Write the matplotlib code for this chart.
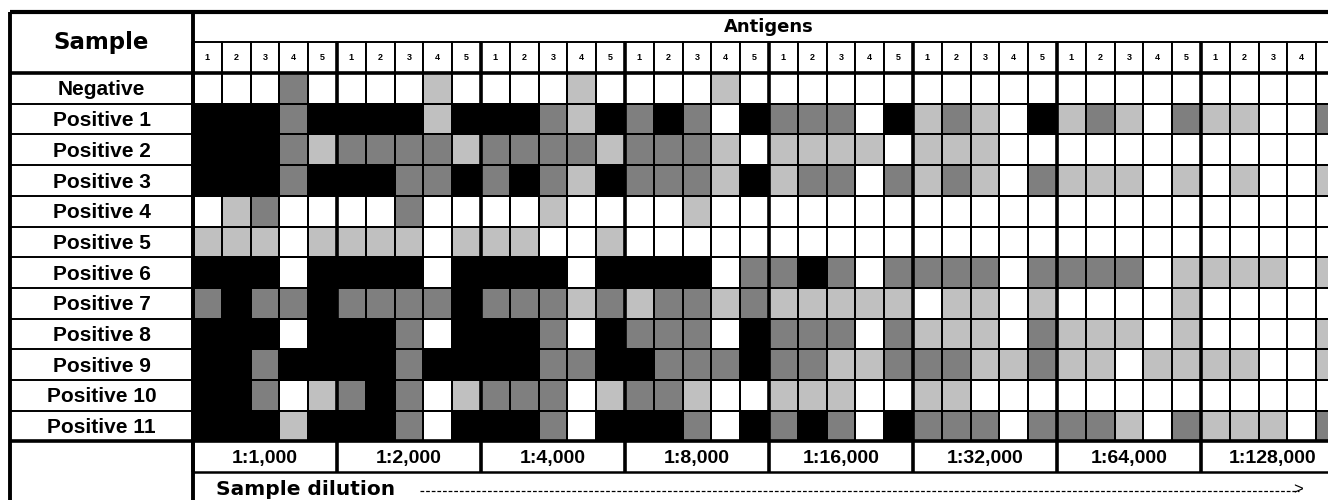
import numpy as np
import matplotlib
matplotlib.use('Agg')
import matplotlib.pyplot as plt
from matplotlib.colors import ListedColormap

# образцы (строки таблицы)
samples = ['Negative'] + ['Positive %d' % i for i in range(1, 12)]
antigens = ['1', '2', '3', '4', '5']
dilutions = ['1:1,000', '1:2,000', '1:4,000', '1:8,000',
             '1:16,000', '1:32,000', '1:64,000', '1:128,000']

# интенсивность реакции: 0 - нет, 1 - слабая, 2 - средняя, 3 - сильная
# по 5 антигенов на каждое разведение
results = [
    '00020 00010 00010 00010 00000 00000 00000 00000',
    '33323 33313 33213 23203 22203 12103 12102 11002',
    '33321 22221 22221 22210 11110 11100 00000 00000',
    '33323 33223 23213 22213 12202 12102 11101 01001',
    '01200 00200 00100 00100 00000 00000 00000 00000',
    '11101 11101 11001 00000 00000 00000 00000 00000',
    '33303 33303 33303 33302 23202 22202 22201 11101',
    '23223 22223 22212 12212 11111 01101 00001 00000',
    '33303 33203 33203 22203 22202 11102 11101 00001',
    '33233 33233 33223 32223 22112 22112 11011 11001',
    '33201 23201 22201 22100 11100 11000 00000 00000',
    '33313 33203 33203 33203 23203 22202 22102 11102',
]
level_colors = ['white', '#c0c0c0', '#7f7f7f', 'black']

grid = np.array([[int(ch) for ch in r.replace(' ', '')] for r in results])
n_rows, n_cols = grid.shape
n_ag = len(antigens)

fig = plt.figure(figsize=(13.28, 5.0), dpi=100)
ax = fig.add_axes([0, 0, 1, 1])
ax.set_xlim(-6.70, 39.41)
ax.set_ylim(13.91, -2.38)
ax.axis('off')

lab_font = 'Liberation Sans'
head_font = 'DejaVu Sans'
left = -6.35  # левая граница таблицы
lab_x = (left + 0) / 2

# ячейки
xe = np.arange(n_cols + 1)
ye = np.arange(n_rows + 1)
ax.pcolormesh(xe, ye, grid, cmap=ListedColormap(level_colors), vmin=-0.5, vmax=3.5,
              edgecolors='black', linewidth=1.4)

# строка с номерами антигенов
for j in range(n_cols):
    ax.add_patch(plt.Rectangle((j, -1), 1, 1, facecolor='white', edgecolor='black', lw=1.4))
    ax.text(j + 0.5, -0.5, antigens[j % n_ag], ha='center', va='center',
            fontsize=6.5, fontweight='bold', family=lab_font)

ax.text(n_cols / 2, -1.5, 'Antigens', ha='center', va='center',
        fontsize=13, fontweight='bold', family=head_font)
ax.text(lab_x, -1.0, 'Sample', ha='center', va='center',
        fontsize=16.5, fontweight='bold', family=head_font)

# подписи образцов
for i, s in enumerate(samples):
    ax.text(lab_x, i + 0.55, s, ha='center', va='center',
            fontsize=15, fontweight='bold', family=lab_font)
ax.hlines(np.arange(1, n_rows), left, 0, color='black', lw=1.4)

# подписи разведений
for b, d in enumerate(dilutions):
    ax.text(b * n_ag + n_ag / 2, n_rows + 0.55, d, ha='center', va='center',
            fontsize=14, fontweight='bold', family=lab_font)
ax.hlines(n_rows + 1, 0, n_cols, color='black', lw=1.8)

# рамки
ax.hlines(-2, left, n_cols, color='black', lw=3)
ax.hlines([0, n_rows], left, n_cols, color='black', lw=2.6)
ax.vlines([left, 0], -2, 14, color='black', lw=2.8)
ax.vlines(np.arange(0, n_cols + 1, n_ag), -1, n_rows + 1, color='black', lw=2.6)

# подпись оси разведения со стрелкой
ax.text(3.9, 13.58, 'Sample dilution', ha='center', va='center',
        fontsize=14.5, fontweight='bold', family=head_font)
ax.plot([7.9, 38.4], [13.62, 13.62], color='black', lw=0.9, ls=(0, (3, 1.5)))
ax.text(38.2, 13.58, '>', ha='left', va='center', fontsize=12, family=lab_font)

fig.savefig('out.png', dpi=100)
